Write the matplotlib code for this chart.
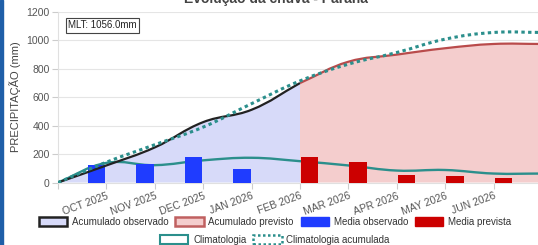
import matplotlib
matplotlib.use('Agg')
import matplotlib.pyplot as plt
from matplotlib.path import Path
from matplotlib.patches import PathPatch, Patch, Rectangle

plt.rcParams['font.family'] = ['Liberation Sans', 'DejaVu Sans']

# data (index -1 = start point, 9 = end point, both unlabelled)
meses = ['', 'OCT 2025', 'NOV 2025', 'DEC 2025', 'JAN 2026', 'FEB 2026',
         'MAR 2026', 'APR 2026', 'MAY 2026', 'JUN 2026', '']
x_all = list(range(-1, 10))

x_obs = [-1, 0, 1, 2, 3, 4]
acum_obs = [0, 120, 247, 425, 512, 700]

x_prev = [4, 5, 6, 7, 8, 9]
acum_prev = [700, 850, 900, 945, 975, 975]

clim = [0, 138, 122, 156, 174, 150, 120, 84, 88, 63, 63]
clim_acum = [0, 143, 266, 390, 555, 715, 833, 915, 1009, 1056, 1056]

x_bar_obs = [0, 1, 2, 3]
media_obs = [120, 127, 180, 96]
x_bar_prev = [4, 5, 6, 7, 8]
media_prev = [179, 146, 52, 49, 35]

mlt = 1056.0

W, H = 538, 245
fig = plt.figure(figsize=(W / 100, H / 100), dpi=100)
ax = fig.add_axes([58 / W, 1 - 182.5 / H, 484 / W, 170.5 / H])
ax.set_xlim(-1, 9)
ax.set_ylim(0, 1200)

SX, SY = 484 / 10, 170.5 / 1200  # px per unit, for the curve tension


def spline_path(xs, ys, t=0.4, close=False):
    n = len(xs)
    pts = list(zip(xs, ys))
    cps = []
    for i in range(n):
        p0 = pts[max(i - 1, 0)]
        p1 = pts[i]
        p2 = pts[min(i + 1, n - 1)]
        d01 = ((SX * (p1[0] - p0[0])) ** 2 + (SY * (p1[1] - p0[1])) ** 2) ** 0.5
        d12 = ((SX * (p2[0] - p1[0])) ** 2 + (SY * (p2[1] - p1[1])) ** 2) ** 0.5
        tot = d01 + d12
        s01 = d01 / tot if tot else 0
        s12 = d12 / tot if tot else 0
        fa, fb = t * s01, t * s12
        cp_prev = (p1[0] - fa * (p2[0] - p0[0]), p1[1] - fa * (p2[1] - p0[1]))
        cp_next = (p1[0] + fb * (p2[0] - p0[0]), p1[1] + fb * (p2[1] - p0[1]))
        cps.append((cp_prev, cp_next))
    verts = [pts[0]]
    codes = [Path.MOVETO]
    for i in range(n - 1):
        verts += [cps[i][1], cps[i + 1][0], pts[i + 1]]
        codes += [Path.CURVE4] * 3
    if close:
        verts += [(xs[-1], 0), (xs[0], 0), (xs[0], 0)]
        codes += [Path.LINETO, Path.LINETO, Path.CLOSEPOLY]
    return Path(verts, codes)


blue_fill = '#d7daf9'
pink_fill = '#f4cdcd'
teal = '#2b8f8c'

ax.add_patch(PathPatch(spline_path(x_obs, acum_obs, close=True), facecolor=blue_fill,
                       edgecolor='none', zorder=1))
ax.add_patch(PathPatch(spline_path(x_prev, acum_prev, close=True), facecolor=pink_fill,
                       edgecolor='none', zorder=1))

ax.add_patch(PathPatch(spline_path(x_all, clim), facecolor='none', edgecolor=teal,
                       lw=1.7, zorder=2))

ax.bar([v - 0.2 for v in x_bar_obs], media_obs, width=0.36, color='#1f3cff', zorder=3)
ax.bar([v + 0.2 for v in x_bar_prev], media_prev, width=0.36, color='#cc0000', zorder=3)

ax.add_patch(PathPatch(spline_path(x_obs, acum_obs), facecolor='none', edgecolor='#222222',
                       lw=1.6, zorder=4))
ax.add_patch(PathPatch(spline_path(x_prev, acum_prev), facecolor='none', edgecolor='#b94b4b',
                       lw=1.6, zorder=4))
ax.add_patch(PathPatch(spline_path(x_all, clim_acum), facecolor='none', edgecolor=teal,
                       lw=2.2, linestyle=(0, (1.1, 1.1)), zorder=5))

# axes styling
ax.set_yticks(range(0, 1201, 200))
ax.grid(axis='y', color='#e5e5e5', lw=0.8, zorder=0)
ax.set_axisbelow(True)
for s in ['top', 'right']:
    ax.spines[s].set_visible(False)
ax.spines['left'].set_color('#e0e0e0')
ax.spines['bottom'].set_color('#e0e0e0')
ax.tick_params(axis='y', labelsize=7.5, labelcolor='#555555', color='#cccccc', length=4, pad=2)
ax.set_xticks(x_all)
ax.set_xticklabels(meses, rotation=20, ha='right', rotation_mode='anchor')
ax.tick_params(axis='x', labelsize=7.5, labelcolor='#555555', color='#cccccc', length=4, pad=2)

fig.text(15 / W, 1 - 97 / H, 'PRECIPITAÇÃO (mm)', rotation=90, ha='center', va='center',
         fontsize=8, color='#444444')

ax.text(10 / 484, 1 - 13.5 / 170.5, 'MLT: %.1fmm' % mlt, transform=ax.transAxes, fontsize=7,
        va='center', ha='left', color='#222222',
        bbox=dict(boxstyle='square,pad=0.25', facecolor='white', edgecolor='#444444', lw=0.8))

fig.text(276 / W, 1 - 3 / H, 'Evolução da chuva - Paraná', ha='center', va='baseline',
         fontsize=10, fontweight='bold', color='#444444')

# legends
h1 = [Patch(facecolor=blue_fill, edgecolor='#222222', lw=1.8, label='Acumulado observado'),
      Patch(facecolor=pink_fill, edgecolor='#c06060', lw=1.8, label='Acumulado previsto'),
      Patch(facecolor='#1f3cff', edgecolor='#1f3cff', label='Media observado'),
      Patch(facecolor='#cc0000', edgecolor='#cc0000', label='Media prevista')]
h2 = [Patch(facecolor='white', edgecolor=teal, lw=1.5, label='Climatologia'),
      Patch(facecolor='white', edgecolor=teal, lw=1.8, linestyle=(0, (1, 1)),
            label='Climatologia acumulada')]
leg_kw = dict(loc='center', frameon=False, fontsize=7, handlelength=2.9, handleheight=1.0,
              handletextpad=0.5, columnspacing=0.7, borderpad=0, labelcolor='#333333')
fig.legend(handles=h1, ncol=4, bbox_to_anchor=(275 / W, 1 - 222 / H), **leg_kw)
fig.legend(handles=h2, ncol=2, bbox_to_anchor=(275 / W, 1 - 240 / H), **leg_kw)

fig.add_artist(Rectangle((0, 0), 3 / W, 1, transform=fig.transFigure, color='#1f5fa8'))

fig.savefig('out.png', dpi=100)
